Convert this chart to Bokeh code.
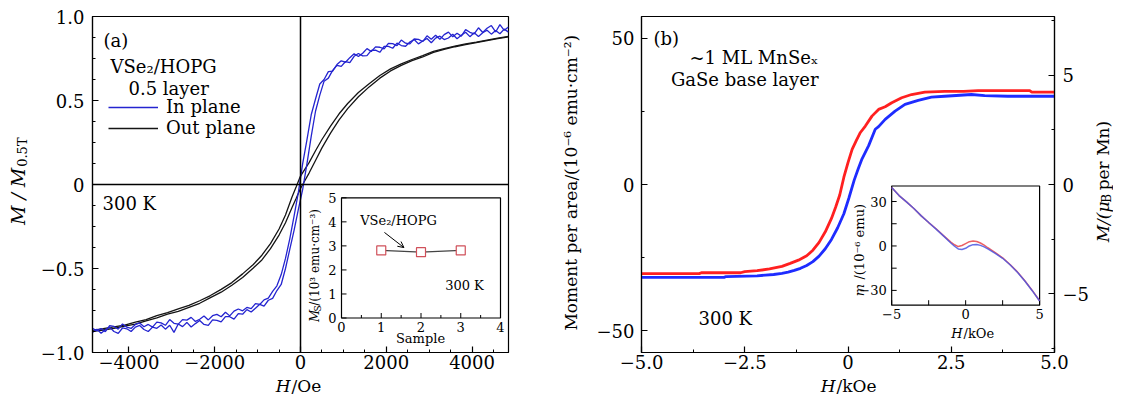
import math
from bokeh.plotting import figure
from bokeh.layouts import row, column
from bokeh.models import (Range1d, LinearAxis, SingleIntervalTicker, Span, Label,
                          Legend, LegendItem, Arrow, OpenHead)
from bokeh.core.properties import value
from bokeh.embed import file_html
from bokeh.resources import INLINE

FONT = "DejaVu Serif"

# ---------------- data: panel (a) ----------------
h_blue = [-4850, -4750, -4650, -4550, -4450, -4350, -4250, -4150, -4050, -3950,
          -3850, -3750, -3650, -3550, -3450, -3350, -3250, -3150, -3050, -2950,
          -2850, -2750, -2650, -2550, -2450, -2350, -2250, -2150, -2050, -1950,
          -1850, -1750, -1650, -1550, -1450, -1350, -1250, -1150, -1050, -950,
          -850, -750, -650, -550, -450, -350, -250, -150, -50,
          50, 150, 250, 350, 450, 550, 650, 750, 850, 950,
          1050, 1150, 1250, 1350, 1450, 1550, 1650, 1750, 1850, 1950,
          2050, 2150, 2250, 2350, 2450, 2550, 2650, 2750, 2850, 2950,
          3050, 3150, 3250, 3350, 3450, 3550, 3650, 3750, 3850, 3950,
          4050, 4150, 4250, 4350, 4450, 4550, 4650, 4750, 4850]
blue_up = [-0.881, -0.861, -0.885, -0.865, -0.849, -0.875, -0.886, -0.854, -0.859, -0.875,
           -0.849, -0.839, -0.863, -0.875, -0.849, -0.856, -0.836, -0.861, -0.838, -0.880,
           -0.830, -0.846, -0.821, -0.848, -0.828, -0.810, -0.833, -0.838, -0.806, -0.809,
           -0.818, -0.786, -0.787, -0.801, -0.768, -0.772, -0.745, -0.759, -0.736, -0.713,
           -0.724, -0.689, -0.678, -0.631, -0.595, -0.500, -0.386, -0.273, -0.148,
           -0.030, 0.123, 0.286, 0.436, 0.532, 0.615, 0.633, 0.679, 0.709, 0.703,
           0.732, 0.725, 0.763, 0.780, 0.766, 0.767, 0.798, 0.800, 0.787, 0.822,
           0.822, 0.811, 0.842, 0.827, 0.823, 0.848, 0.863, 0.837, 0.854, 0.869,
           0.844, 0.871, 0.883, 0.863, 0.872, 0.894, 0.868, 0.888, 0.906, 0.880,
           0.903, 0.881, 0.903, 0.918, 0.895, 0.917, 0.897, 0.925, 0.907]
blue_down = [-0.856, -0.871, -0.857, -0.876, -0.840, -0.845, -0.861, -0.830, -0.849, -0.857,
             -0.833, -0.824, -0.847, -0.833, -0.849, -0.819, -0.824, -0.838, -0.804, -0.826,
             -0.831, -0.804, -0.807, -0.791, -0.815, -0.802, -0.783, -0.806, -0.781, -0.773,
             -0.787, -0.760, -0.782, -0.754, -0.741, -0.752, -0.732, -0.739, -0.709, -0.714,
             -0.687, -0.676, -0.636, -0.603, -0.536, -0.440, -0.323, -0.188, -0.047,
             0.123, 0.266, 0.415, 0.509, 0.598, 0.625, 0.672, 0.675, 0.714, 0.736,
             0.728, 0.755, 0.778, 0.762, 0.781, 0.809, 0.792, 0.819, 0.817, 0.807,
             0.840, 0.839, 0.826, 0.860, 0.841, 0.837, 0.866, 0.864, 0.851, 0.885,
             0.864, 0.888, 0.864, 0.892, 0.907, 0.879, 0.900, 0.883, 0.922, 0.906,
             0.896, 0.933, 0.905, 0.930, 0.946, 0.908, 0.952, 0.918, 0.938]

h_black = [-4850, -4600, -4350, -4100, -3850, -3600, -3350, -3100, -2850, -2600,
           -2350, -2100, -1850, -1600, -1350, -1100, -900, -700, -500, -350,
           -200, -100, 0, 100, 200, 350, 500, 700, 900, 1100,
           1350, 1600, 1850, 2100, 2350, 2600, 2850, 3100, 3350, 3600,
           3850, 4100, 4350, 4600, 4850]
black_up = [-0.874, -0.866, -0.857, -0.843, -0.831, -0.812, -0.794, -0.771, -0.755, -0.731,
            -0.707, -0.673, -0.641, -0.600, -0.554, -0.497, -0.449, -0.382, -0.301, -0.228,
            -0.138, -0.082, -0.024, 0.022, 0.068, 0.143, 0.218, 0.306, 0.385, 0.452,
            0.522, 0.581, 0.633, 0.676, 0.709, 0.737, 0.759, 0.786, 0.804, 0.820,
            0.832, 0.844, 0.857, 0.868, 0.879]
black_down = [-0.868, -0.858, -0.847, -0.837, -0.819, -0.804, -0.781, -0.763, -0.741, -0.720,
              -0.692, -0.661, -0.624, -0.584, -0.532, -0.476, -0.421, -0.352, -0.265, -0.182,
              -0.076, -0.014, 0.050, 0.090, 0.130, 0.201, 0.268, 0.348, 0.421, 0.482,
              0.548, 0.600, 0.649, 0.688, 0.718, 0.744, 0.767, 0.793, 0.809, 0.823,
              0.837, 0.847, 0.860, 0.871, 0.882]

# inset (a)
sample = [1, 2, 3]
ms_value = [2.81, 2.74, 2.81]

# ---------------- data: panel (b) ----------------
red_h = [-5.0, -3.6, -3.55, -2.6, -2.5, -2.2, -1.9, -1.6, -1.4, -1.2, -1.0, -0.85, -0.7,
         -0.55, -0.4, -0.3, -0.2, -0.1, 0.0, 0.1, 0.2, 0.3, 0.42, 0.58, 0.74, 0.9, 1.06,
         1.3, 1.54, 1.86, 2.34, 2.8, 3.15, 4.4, 4.45, 5.0]
red_m = [-30.5, -30.5, -30.2, -30.2, -29.8, -29.5, -28.9, -28.0, -27.0, -25.9, -24.4, -22.5,
         -19.8, -16.2, -11.6, -7.8, -3.6, 2.5, 7.5, 12.0, 15.0, 17.8, 20.0, 23.4, 25.7, 26.6,
         28.0, 29.7, 30.8, 31.6, 31.9, 31.9, 32.1, 32.1, 31.6, 31.6]
blue_h = [-5.0, -3.0, -2.95, -2.2, -2.0, -1.8, -1.6, -1.45, -1.3, -1.15, -1.0, -0.85, -0.7,
          -0.55, -0.4, -0.25, -0.1, 0.02, 0.15, 0.25, 0.34, 0.5, 0.66, 0.74, 0.9, 1.14, 1.38,
          1.7, 2.02, 2.34, 2.99, 3.31, 3.87, 5.0]
blue_m = [-31.8, -31.8, -31.5, -31.3, -31.0, -30.8, -30.4, -30.0, -29.4, -28.7, -27.7, -26.4,
          -24.5, -22.0, -18.8, -14.8, -10.0, -4.7, 1.5, 5.5, 8.8, 13.3, 18.9, 19.8, 22.3, 25.1,
          27.4, 28.8, 29.9, 30.2, 30.8, 30.4, 30.2, 30.2]

# inset (b)
ins_h = [-5, -4.5, -4, -3.5, -3, -2.5, -2, -1.5, -1, -0.75, -0.5, -0.25, 0, 0.25, 0.5,
         0.75, 1, 1.25, 1.5, 2, 2.5, 3, 3.5, 4, 4.5, 5]
ins_red = [39.5, 34.0, 29.8, 25.3, 20.3, 15.8, 11.6, 7.0, 2.6, 0.8, -0.4, 0.3, 1.6, 2.9, 3.3,
           3.0, 2.0, 0.6, -1.2, -4.5, -8.0, -12.5, -17.5, -23.5, -30.0, -37.0]
ins_blue = [39.5, 34.0, 29.8, 25.3, 20.3, 15.8, 11.4, 6.8, 2.0, -0.2, -2.0, -2.4, -1.6, 0.0,
            0.9, 1.0, 0.4, -0.6, -2.0, -5.0, -8.3, -12.7, -17.7, -23.7, -30.2, -37.2]

# ---------------- ticks ----------------
a_xticks = [-4000, -2000, 0, 2000, 4000]
a_xlabels = ["−4000", "−2000", "0", "2000", "4000"]
a_yticks = [-1, -0.5, 0, 0.5, 1]
a_ylabels = ["−1.0", "−0.5", "0", "0.5", "1.0"]
b_xticks = [-5, -2.5, 0, 2.5, 5]
b_xlabels = ["−5.0", "−2.5", "0", "2.5", "5.0"]
b_yticks = [-50, 0, 50]
b_ylabels = ["−50", "0", "50"]
b_rticks = [-5, 0, 5]
b_rlabels = ["−5", "0", "5"]
ia_xticks = [0, 1, 2, 3, 4]
ia_xlabels = ["0", "1", "2", "3", "4"]
ia_xminor = [0.5, 1.5, 2.5, 3.5]
ia_yticks = [0, 1, 2, 3, 4, 5]
ia_ylabels = ["0", "1", "2", "3", "4", "5"]
ib_xticks = [-5, -2.5, 0, 2.5, 5]
ib_xlabel_pos = [-5, 0, 5]
ib_xlabels = ["−5", "0", "5"]
ib_yticks = [-30, -15, 0, 15, 30]
ib_ylabel_pos = [-30, 0, 30]
ib_ylabels = ["−30", "0", "30"]

# ---------------- layout (page pixels) ----------------
FRAME_H = 336
ROW_H = 16 + FRAME_H + 23
STRIP_H = 395 - ROW_H
FA = (92, 16, 416, FRAME_H)    # frame: page-left, page-top, width, height
FB = (641, 16, 416, FRAME_H)
ROT = math.pi / 2


def Y(py):
    """map a vertical position read on the reference (frame 16..357) to this layout"""
    return 16 + (py - 16) * FRAME_H / 341.0


def lab(p, fr, px, py, text, size=18, align="left", angle=0.0, style="normal"):
    p.add_layout(Label(x=px - fr[0], y=(fr[1] + fr[3]) - py, x_units="screen", y_units="screen",
                       text=text, text_font=FONT, text_font_size=f"{size}px",
                       text_align=align, text_baseline="middle", angle=angle,
                       text_font_style=style, text_color="black"))


def text_fig(width, height):
    f = figure(width=width, height=height, x_range=Range1d(0, width), y_range=Range1d(0, height),
               output_backend="svg", toolbar_location=None, min_border=0,
               x_axis_location=None, y_axis_location=None)
    f.grid.visible = False
    f.outline_line_color = None
    f.background_fill_color = "white"
    f.border_fill_color = "white"
    return f


def ftext(f, org, px, py, text, size=19, align="left", angle=0.0, style="normal"):
    # org = (page_left, page_top, fig_height)
    f.text(x=[px - org[0]], y=[org[2] - (py - org[1])], text=[text],
           text_font=value(FONT), text_font_size=value(f"{size}px"),
           text_align=value(align), text_baseline=value("middle"), angle=angle,
           text_font_style=value(style), text_color="black")


def style_axis(ax, ticker, ticks, labels, standoff):
    ax.ticker = ticker
    ax.major_label_overrides = dict(zip(ticks, labels))
    ax.major_label_text_font = FONT
    ax.major_label_text_font_size = "18px"
    ax.major_label_text_color = "black"
    ax.major_label_standoff = standoff
    ax.major_tick_in = 6
    ax.major_tick_out = 0
    ax.minor_tick_in = 3
    ax.minor_tick_out = 0
    ax.axis_line_color = "black"
    ax.axis_line_width = 1.2
    ax.major_tick_line_color = "black"
    ax.minor_tick_line_color = "black"
    ax.major_tick_line_width = 1.2


def make_inset(p, name, box, fr, xr, yr):
    l, t, r, b = box[0] - fr[0], box[1] - fr[1], box[2] - fr[0], box[3] - fr[1]
    sx = (r - l) / (xr[1] - xr[0])
    sy = (b - t) / (yr[1] - yr[0])
    p.extra_x_ranges[name] = Range1d(xr[0] - l / sx, xr[1] + (fr[2] - r) / sx)
    p.extra_y_ranges[name] = Range1d(yr[0] - (fr[3] - b) / sy, yr[1] + t / sy)
    p.quad(left=[xr[0]], right=[xr[1]], bottom=[yr[0]], top=[yr[1]], fill_color="white",
           line_color="black", line_width=1.2, x_range_name=name, y_range_name=name)
    return sx, sy


def inset_ticks(p, name, sx, sy, xr, yr, xt, yt, xminor=(), yminor=()):
    kw = dict(line_color="black", line_width=1, x_range_name=name, y_range_name=name)
    for vals, ln in ((xt, 5), (xminor, 3)):
        if vals:
            p.segment(x0=list(vals), y0=[yr[0]] * len(vals), x1=list(vals),
                      y1=[yr[0] + ln / sy] * len(vals), **kw)
    for vals, ln in ((yt, 5), (yminor, 3)):
        if vals:
            p.segment(x0=[xr[0]] * len(vals), y0=list(vals), x1=[xr[0] + ln / sx] * len(vals),
                      y1=list(vals), **kw)


def inset_labels(p, name, sx, sy, xr, yr, xpos, xlab, ypos, ylab):
    kw = dict(text_font=value(FONT), text_font_size=value("13px"), text_color="black",
              x_range_name=name, y_range_name=name)
    p.text(x=xpos, y=[yr[0] - 4 / sy] * len(xpos), text=xlab, text_align="center",
           text_baseline="top", **kw)
    p.text(x=[xr[0] - 5 / sx] * len(ypos), y=ypos, text=ylab, text_align="right",
           text_baseline="middle", **kw)


def base_fig(width, xr, yr, left, right):
    p = figure(width=width, height=ROW_H, x_range=xr, y_range=yr, output_backend="svg",
               toolbar_location=None, min_border_left=left, min_border_right=right,
               min_border_top=16, min_border_bottom=ROW_H - 16 - FRAME_H)
    p.grid.visible = False
    p.outline_line_color = "black"
    p.outline_line_width = 1.2
    p.background_fill_color = "white"
    p.border_fill_color = "white"
    return p


# ================= panel (a) =================
pA = base_fig(518, Range1d(-4850, 4850), Range1d(-1, 1), 62, 40)
style_axis(pA.xaxis[0], SingleIntervalTicker(interval=2000, num_minor_ticks=4), a_xticks, a_xlabels, 2)
style_axis(pA.yaxis[0], SingleIntervalTicker(interval=0.5, num_minor_ticks=4), a_yticks, a_ylabels, 8)

pA.add_layout(Span(location=0, dimension="height", line_color="black", line_width=1.5))
pA.add_layout(Span(location=0, dimension="width", line_color="black", line_width=1.5))

rk1 = pA.line(h_black, black_up, line_color="#151515", line_width=1.3)
pA.line(h_black, black_down, line_color="#151515", line_width=1.3)
rb1 = pA.line(h_blue, blue_up, line_color="#2424d0", line_width=1.3)
pA.line(h_blue, blue_down, line_color="#2424d0", line_width=1.3)

leg = Legend(items=[LegendItem(label="In plane", renderers=[rb1]),
                    LegendItem(label="Out plane", renderers=[rk1])],
             location=(16, 214), glyph_width=50, glyph_height=20, label_height=20,
             label_standoff=8, padding=0, margin=0, spacing=-2,
             border_line_alpha=0, background_fill_alpha=0,
             label_text_font=FONT, label_text_font_size="18px", label_text_color="black")
pA.add_layout(leg)

lab(pA, FA, 103, Y(40), "(a)")
lab(pA, FA, 110, Y(67), "VSe₂/HOPG")
lab(pA, FA, 128, Y(89), "0.5 layer")
lab(pA, FA, 102, Y(206), "300 K")

# inset (a)
IA_X, IA_Y = (0, 4), (0, 5)
sxa, sya = make_inset(pA, "ia", (341, Y(200), 500, Y(322)), FA, IA_X, IA_Y)
inset_ticks(pA, "ia", sxa, sya, IA_X, IA_Y, ia_xticks, ia_yticks, ia_xminor)
inset_labels(pA, "ia", sxa, sya, IA_X, IA_Y, ia_xticks, ia_xlabels, ia_yticks, ia_ylabels)
pA.line(sample, ms_value, line_color="#444444", line_width=1.2, x_range_name="ia", y_range_name="ia")
pA.scatter(sample, ms_value, marker="square", size=9, fill_color="white", line_color="#d0505a",
           line_width=1.2, x_range_name="ia", y_range_name="ia")
pA.add_layout(Arrow(end=OpenHead(size=6, line_width=1, line_color="black"),
                    x_start=1.08, y_start=3.56, x_end=1.57, y_end=2.93, line_width=1,
                    line_color="black", x_range_name="ia", y_range_name="ia"))
lab(pA, FA, 398, Y(223), "VSe₂/HOPG", 13, "center")
lab(pA, FA, 464, Y(289), "300 K", 13, "center")
lab(pA, FA, 420, Y(343), "Sample", 13, "center")
lab(pA, FA, 314, Y(326), "M", 12, "left", ROT, "italic")
lab(pA, FA, 317, Y(315.5), "S", 9, "left", ROT)
lab(pA, FA, 314, Y(309.5), "/(10³ emu·cm⁻³)", 12, "left", ROT)

# ================= panel (b) =================
pB = base_fig(502, Range1d(-5, 5), Range1d(-57.5, 57.5), 51, 35)
pB.extra_y_ranges = {"r": Range1d(-7.7, 7.7)}
style_axis(pB.xaxis[0], SingleIntervalTicker(interval=2.5, num_minor_ticks=2), b_xticks, b_xlabels, 2)
style_axis(pB.yaxis[0], SingleIntervalTicker(interval=50, num_minor_ticks=2), b_yticks, b_ylabels, 7)
rax = LinearAxis(y_range_name="r")
style_axis(rax, SingleIntervalTicker(interval=5, num_minor_ticks=2), b_rticks, b_rlabels, 8)
pB.add_layout(rax, "right")

pB.line(red_h, red_m, line_color="#ff2020", line_width=2.8)
pB.line(blue_h, blue_m, line_color="#1e2cff", line_width=2.8)

lab(pB, FB, 653, Y(38), "(b)")
lab(pB, FB, 818, Y(58), "~1 ML MnSeₓ", 18, "right")
lab(pB, FB, 818, Y(80), "GaSe base layer", 18, "right")
lab(pB, FB, 698, Y(323), "300 K")

# inset (b)
IB_X, IB_Y = (-5, 5), (-40, 40.5)
sxb, syb = make_inset(pB, "ib", (893, Y(188), 1042, Y(309)), FB, IB_X, IB_Y)
inset_ticks(pB, "ib", sxb, syb, IB_X, IB_Y, ib_xticks, ib_yticks)
inset_labels(pB, "ib", sxb, syb, IB_X, IB_Y, ib_xlabel_pos, ib_xlabels, ib_ylabel_pos, ib_ylabels)
pB.line(ins_h, ins_red, line_color="#e8454a", line_width=1.5, line_alpha=0.85,
        x_range_name="ib", y_range_name="ib")
pB.line(ins_h, ins_blue, line_color="#4a55e0", line_width=1.5, line_alpha=0.85,
        x_range_name="ib", y_range_name="ib")
lab(pB, FB, 859, Y(300), "m", 13, "left", ROT, "italic")
lab(pB, FB, 859, Y(283), "/(10⁻⁶ emu)", 13, "left", ROT)
lab(pB, FB, 962, Y(338), "H", 13, "right", 0, "italic")
lab(pB, FB, 963, Y(338), "/kOe", 13, "left")

# ================= axis-title strips =================
tA = text_fig(30, ROW_H)            # page x 0..30
oA = (0, 0, ROW_H)
ftext(tA, oA, 17, Y(171), "M / M", 19, "right", ROT, "italic")
ftext(tA, oA, 22, Y(170), "0.5T", 13, "left", ROT)

tB = text_fig(42, ROW_H)            # page x 548..590
oB = (548, 0, ROW_H)
ftext(tB, oB, 570, Y(188), "Moment per area/(10⁻⁶ emu·cm⁻²)", 17, "center", ROT)

tR = text_fig(21, ROW_H)            # page x 1092..1113
oR = (1092, 0, ROW_H)
y0 = 252
ftext(tR, oR, 1102, y0, "M/(μ", 17, "left", ROT, "italic")
ftext(tR, oR, 1106, y0 - 44, "B", 12, "left", ROT)
ftext(tR, oR, 1102, y0 - 58, "per Mn)", 17, "left", ROT)

strip = text_fig(1113, STRIP_H)     # page y ROW_H..395
oS = (0, ROW_H, STRIP_H)
ys = ROW_H + STRIP_H / 2
ftext(strip, oS, 290, ys, "H", 17, "right", 0, "italic")
ftext(strip, oS, 291, ys, "/Oe", 17, "left")
ftext(strip, oS, 835, ys, "H", 17, "right", 0, "italic")
ftext(strip, oS, 836, ys, "/kOe", 17, "left")

layout = column(row(tA, pA, tB, pB, tR), strip)
open("out.html", "w").write(file_html(layout, INLINE))
